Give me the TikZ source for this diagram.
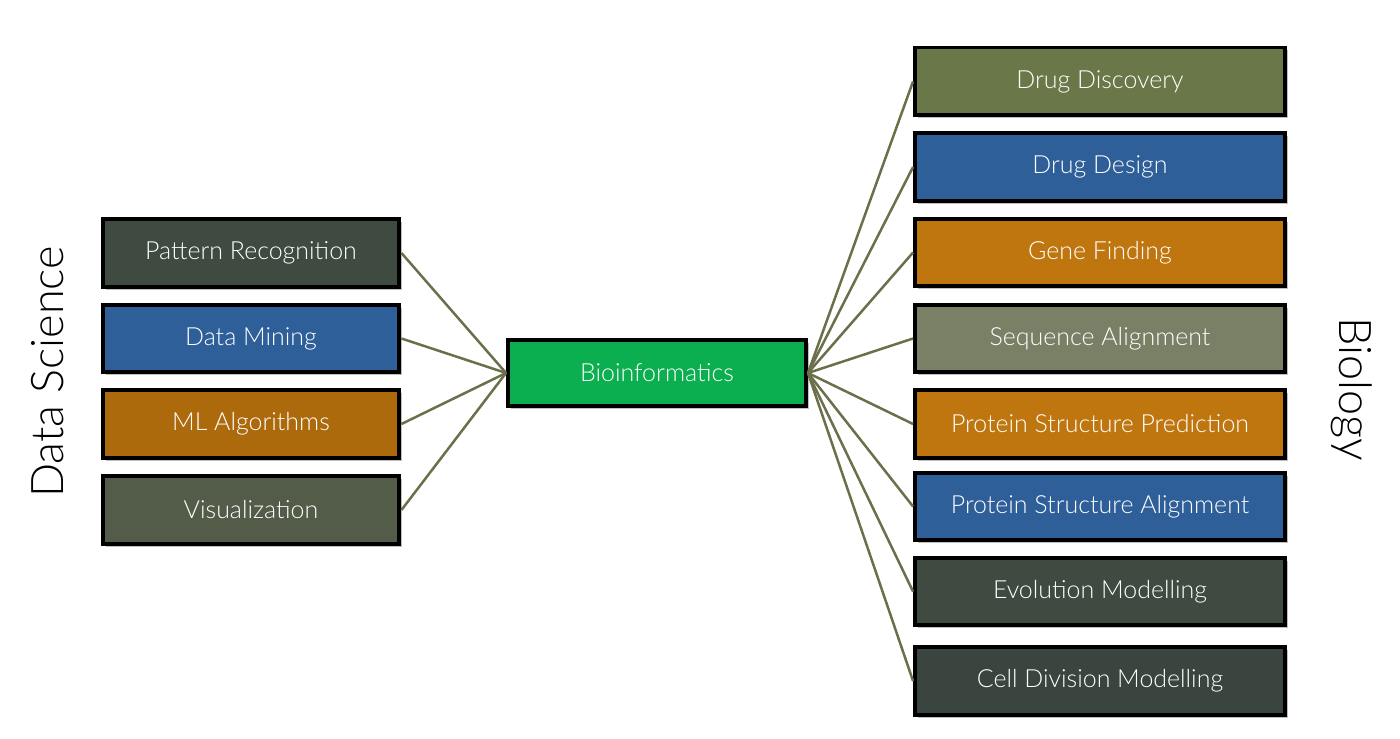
\documentclass[tikz,border=0pt]{standalone}
\usepackage{fontspec}
\setmainfont{Lato}[UprightFont=* Light]
\usetikzlibrary{shadows}
\definecolor{slate}{HTML}{3F4A40}
\definecolor{steel}{HTML}{2E5F99}
\definecolor{amber}{HTML}{BF760F}
\definecolor{moss}{HTML}{525C48}
\definecolor{leaf}{HTML}{0BAF50}
\definecolor{olivegreen}{HTML}{6A7849}
\definecolor{sage}{HTML}{7A8066}
\definecolor{charcoal}{HTML}{3A4540}
\definecolor{wire}{HTML}{6B6F4A}
\begin{document}
\begin{tikzpicture}[x=0.02cm, y=-0.02cm,
    box/.style={draw=black, line width=0.08cm, text=white, font=\fontsize{14.2}{17}\selectfont,
        minimum height=1.36cm, inner sep=0pt,
        drop shadow={shadow xshift=0.06cm, shadow yshift=-0.06cm, fill=black!25, opacity=1}},
    leftbox/.style={box, minimum width=5.94cm},
    rightbox/.style={box, minimum width=7.4cm},
    link/.style={wire, line width=0.05cm}]
    \useasboundingbox (0,0) rectangle (1400,739);
    % Side titles
    \node[rotate=90, font=\fontsize{25.6}{30}\selectfont] (ds) at (48,372) {Data Science};
    \node[rotate=-90, font=\fontsize{25.6}{30}\selectfont] (bio) at (1352,389) {Biology};
    % Data science boxes
    \node[leftbox, fill=slate] (pr) at (251,253) {Pattern Recognition};
    \node[leftbox, fill=steel] (dm) at (251,338.5) {Data Mining};
    \node[leftbox, fill=amber!90!black] (ml) at (251,424) {ML Algorithms};
    \node[leftbox, fill=moss] (vis) at (251,510) {Visualization};
    % Centre box
    \node[box, fill=leaf, minimum width=5.96cm, minimum height=1.34cm] (bi) at (657,373) {Bioinformatics};
    % Biology boxes
    \node[rightbox, fill=olivegreen] (dd) at (1100,81.5) {Drug Discovery};
    \node[rightbox, fill=steel] (dg) at (1100,167) {Drug Design};
    \node[rightbox, fill=amber] (gf) at (1100,252.5) {Gene Finding};
    \node[rightbox, fill=sage] (sa) at (1100,338.5) {Sequence Alignment};
    \node[rightbox, fill=amber] (psp) at (1100,424) {Protein Structure Prediction};
    \node[rightbox, fill=steel] (psa) at (1100,506.5) {Protein Structure Alignment};
    \node[rightbox, fill=slate] (em) at (1100,591.5) {Evolution Modelling};
    \node[rightbox, fill=charcoal] (cd) at (1100,681) {Cell Division Modelling};
    % Links
    \foreach \n in {pr,dm,ml,vis}
        \draw[link] (\n.east) -- (bi.west);
    \foreach \n in {dd,dg,gf,sa,psp,psa,em,cd}
        \draw[link] (bi.east) -- (\n.west);
\end{tikzpicture}
\end{document}
